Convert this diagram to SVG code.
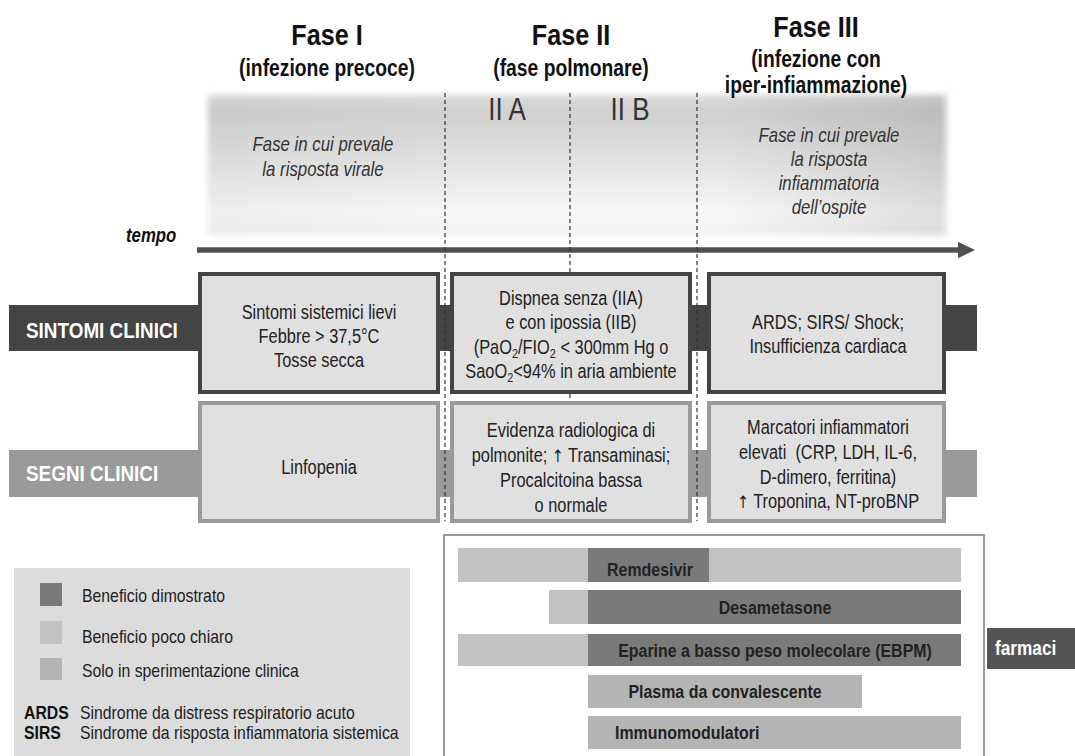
<svg xmlns="http://www.w3.org/2000/svg" width="1075" height="756" viewBox="0 0 1075 756">
<style>
text{font-family:"Liberation Sans",Arial,sans-serif;fill:#222}
.t1{font-size:30px;font-weight:bold;text-anchor:middle;fill:#111}
.t2{font-size:23px;font-weight:bold;text-anchor:middle;fill:#111}
.sub{font-size:31px;text-anchor:middle;fill:#333}
.it{font-size:20px;font-style:italic;text-anchor:middle;fill:#333}
.b{font-size:19.5px;text-anchor:middle}
.lab{font-size:22.5px;font-weight:bold;fill:#fff}
.lg{font-size:18.8px}
.lgb{font-size:18.8px;font-weight:bold;fill:#111}
.dr{font-size:19px;font-weight:bold;fill:#222}
.mid{text-anchor:middle}
.arr{font-family:"DejaVu Sans",sans-serif;font-size:17px;fill:#222}
.dash{stroke:#333;stroke-width:1.2;stroke-dasharray:4 3;fill:none}
.bx1{fill:#e0e0e0;stroke:#444;stroke-width:4}
.bx2{fill:#e0e0e0;stroke:#9a9a9a;stroke-width:4}
.lt{fill:#c2c2c2}.dk{fill:#7a7a7a}.md{fill:#b4b4b4}
</style>
<defs>
<linearGradient id="gv" x1="0" y1="0" x2="0" y2="1">
<stop offset="0" stop-color="#dadada"/>
<stop offset="0.12" stop-color="#d0d0d0"/>
<stop offset="0.55" stop-color="#e6e6e6"/>
<stop offset="0.85" stop-color="#f8f8f8"/>
<stop offset="1" stop-color="#f1f1f1"/>
</linearGradient>
<linearGradient id="gh" x1="0" y1="0" x2="1" y2="0">
<stop offset="0" stop-color="#000" stop-opacity="0.03"/>
<stop offset="0.35" stop-color="#000" stop-opacity="0"/>
<stop offset="0.7" stop-color="#000" stop-opacity="0"/>
<stop offset="1" stop-color="#000" stop-opacity="0.1"/>
</linearGradient>
<filter id="blur" x="-5%" y="-10%" width="110%" height="120%"><feGaussianBlur stdDeviation="3"/></filter>
<marker id="ah" markerWidth="4" markerHeight="4" refX="0" refY="2" orient="auto" markerUnits="strokeWidth"><path d="M0,0.5 L3.1,2 L0,3.5 Z" fill="#505050"/></marker>
</defs>
<rect width="1075" height="756" fill="#fff"/>

<g id="background">
<rect x="208" y="95" width="738" height="140" fill="url(#gv)" filter="url(#blur)"/>
<rect x="208" y="95" width="738" height="140" fill="url(#gh)" filter="url(#blur)"/>
</g>

<g id="headers">
<text class="t1" transform="translate(327 45) scale(.84 1)">Fase I</text>
<text class="t2" transform="translate(327 76) scale(.84 1)">(infezione precoce)</text>
<text class="t1" transform="translate(571 45) scale(.84 1)">Fase II</text>
<text class="t2" transform="translate(571 76) scale(.84 1)">(fase polmonare)</text>
<text class="t1" transform="translate(816 37) scale(.84 1)">Fase III</text>
<text class="t2" transform="translate(816 67) scale(.84 1)">(infezione con</text>
<text class="t2" transform="translate(816 93) scale(.84 1)">iper-infiammazione)</text>
<text class="sub" transform="translate(507 120) scale(.84 1)">II A</text>
<text class="sub" transform="translate(630 120) scale(.84 1)">II B</text>
<text class="it" transform="translate(323 151) scale(.84 1)">Fase in cui prevale</text>
<text class="it" transform="translate(323 176) scale(.84 1)">la risposta virale</text>
<text class="it" transform="translate(829 142) scale(.84 1)">Fase in cui prevale</text>
<text class="it" transform="translate(829 166) scale(.84 1)">la risposta</text>
<text class="it" transform="translate(829 190) scale(.84 1)">infiammatoria</text>
<text class="it" transform="translate(829 214) scale(.84 1)">dell’ospite</text>
<text transform="translate(126 242) scale(.84 1)" style="font-size:20px;font-weight:bold;font-style:italic;fill:#111">tempo</text>
</g>

<g id="connectors">
<line x1="197" y1="250" x2="958" y2="250" stroke="#505050" stroke-width="5.5" marker-end="url(#ah)"/>
<rect x="9" y="305" width="968" height="46" fill="#444"/>
<rect x="9" y="450" width="968" height="47" fill="#9a9a9a"/>
<line class="dash" x1="445" y1="93" x2="445" y2="521"/>
<line class="dash" x1="570" y1="93" x2="570" y2="402"/>
<line class="dash" x1="697" y1="93" x2="697" y2="521"/>
</g>

<g id="sintomi-label"><text class="lab" transform="translate(26 338) scale(.84 1)">SINTOMI CLINICI</text></g>
<g id="segni-label"><text class="lab" transform="translate(26 481) scale(.84 1)">SEGNI CLINICI</text></g>

<g id="s1">
<rect class="bx1" x="200" y="274" width="238" height="118"/>
<text class="b" transform="translate(319 319) scale(.84 1)">Sintomi sistemici lievi</text>
<text class="b" transform="translate(319 343) scale(.84 1)">Febbre &gt; 37,5°C</text>
<text class="b" transform="translate(319 367) scale(.84 1)">Tosse secca</text>
</g>
<g id="s2">
<rect class="bx1" x="452" y="274" width="238" height="118"/>
<text class="b" transform="translate(571 305) scale(.84 1)">Dispnea senza (IIA)</text>
<text class="b" transform="translate(571 329) scale(.84 1)">e con ipossia (IIB)</text>
<text class="b" transform="translate(571 354) scale(.84 1)">(PaO<tspan dy="4" font-size="13">2</tspan><tspan dy="-4">/FIO</tspan><tspan dy="4" font-size="13">2</tspan><tspan dy="-4"> &lt; 300mm Hg o</tspan></text>
<text class="b" transform="translate(571 378) scale(.84 1)">SaoO<tspan dy="4" font-size="13">2</tspan><tspan dy="-4">&lt;94% in aria ambiente</tspan></text>
</g>
<g id="s3">
<rect class="bx1" x="709" y="274" width="235" height="118"/>
<text class="b" transform="translate(828 329) scale(.84 1)">ARDS; SIRS/ Shock;</text>
<text class="b" transform="translate(828 353) scale(.84 1)">Insufficienza cardiaca</text>
</g>

<g id="g1">
<rect class="bx2" x="200" y="403" width="238" height="118"/>
<text class="b" transform="translate(319 474) scale(.84 1)">Linfopenia</text>
</g>
<g id="g2">
<rect class="bx2" x="452" y="403" width="238" height="118"/>
<text class="b" transform="translate(571 437) scale(.84 1)">Evidenza radiologica di</text>
<text class="b" transform="translate(571 462) scale(.84 1)">polmonite; <tspan class="arr">↑</tspan> Transaminasi;</text>
<text class="b" transform="translate(571 487) scale(.84 1)">Procalcitoina bassa</text>
<text class="b" transform="translate(571 512) scale(.84 1)">o normale</text>
</g>
<g id="g3">
<rect class="bx2" x="709" y="403" width="235" height="118"/>
<text class="b" transform="translate(828 434) scale(.84 1)">Marcatori infiammatori</text>
<text class="b" transform="translate(828 459) scale(.84 1)" xml:space="preserve">elevati  (CRP, LDH, IL-6,</text>
<text class="b" transform="translate(828 484) scale(.84 1)">D-dimero, ferritina)</text>
<text class="b" transform="translate(828 508) scale(.84 1)"><tspan class="arr">↑</tspan> Troponina, NT-proBNP</text>
</g>

<g id="legend">
<rect x="14" y="568" width="396" height="190" fill="#dcdcdc"/>
<rect x="40" y="583" width="22" height="23" class="dk"/>
<text class="lg" transform="translate(82 602) scale(.84 1)">Beneficio dimostrato</text>
<rect x="40" y="621" width="22" height="23" class="lt"/>
<text class="lg" transform="translate(82 643) scale(.84 1)">Beneficio poco chiaro</text>
<rect x="40" y="658" width="22" height="22" class="md"/>
<text class="lg" transform="translate(82 677) scale(.84 1)">Solo in sperimentazione clinica</text>
<text class="lgb" transform="translate(24 719) scale(.84 1)">ARDS</text>
<text class="lg" transform="translate(80 719) scale(.84 1)">Sindrome da distress respiratorio acuto</text>
<text class="lgb" transform="translate(24 739) scale(.84 1)">SIRS</text>
<text class="lg" transform="translate(80 739) scale(.84 1)">Sindrome da risposta infiammatoria sistemica</text>
</g>

<g id="farmaci-panel">
<rect x="444" y="535" width="540" height="230" fill="#fff" stroke="#999" stroke-width="2"/>
</g>
<g id="remdesivir">
<rect x="458" y="548" width="503" height="34" class="lt"/>
<rect x="588" y="548" width="121" height="34" class="dk"/>
<text class="dr" transform="translate(607 576) scale(.84 1)">Remdesivir</text>
</g>
<g id="desametasone">
<rect x="549" y="590" width="39" height="34" class="lt"/>
<rect x="588" y="590" width="373" height="34" class="dk"/>
<text class="dr mid" transform="translate(775 614) scale(.84 1)">Desametasone</text>
</g>
<g id="ebpm">
<rect x="458" y="634" width="130" height="32" class="lt"/>
<rect x="588" y="634" width="373" height="32" class="dk"/>
<text class="dr mid" transform="translate(775 657) scale(.84 1)">Eparine a basso peso molecolare (EBPM)</text>
</g>
<g id="plasma">
<rect x="588" y="675" width="274" height="33" class="md"/>
<text class="dr mid" transform="translate(725 698) scale(.84 1)">Plasma da convalescente</text>
</g>
<g id="immuno">
<rect x="588" y="716" width="373" height="33" class="md"/>
<text class="dr" transform="translate(615 739) scale(.84 1)">Immunomodulatori</text>
</g>
<g id="farmaci-label">
<rect x="987" y="628" width="88" height="41" fill="#555"/>
<text transform="translate(995 655) scale(.84 1)" style="font-size:20.5px;font-weight:bold;fill:#fff">farmaci</text>
</g>
</svg>
